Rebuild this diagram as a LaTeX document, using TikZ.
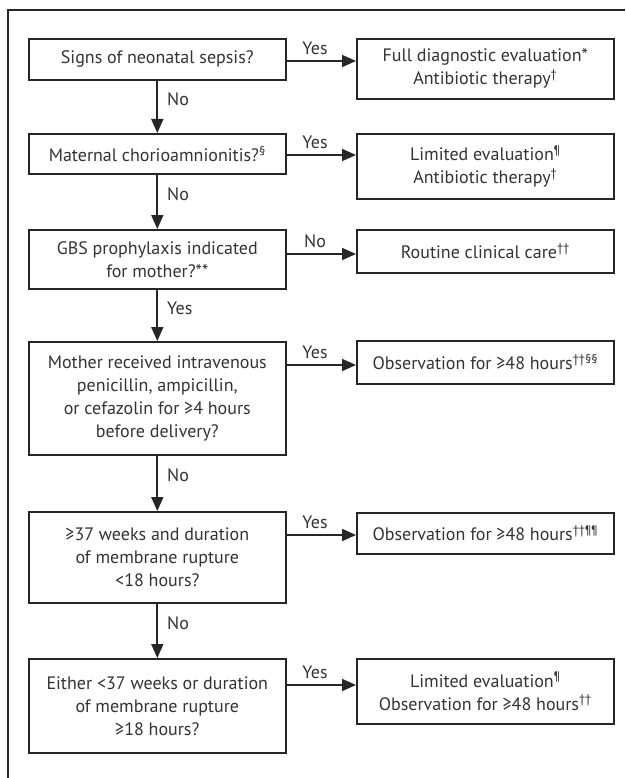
\documentclass[tikz,border=0pt]{standalone}
\usepackage{fontspec}
\setmainfont{PT Sans}
\usetikzlibrary{arrows.meta}
\definecolor{boxc}{HTML}{262626}
\definecolor{txt}{HTML}{333333}
\newcommand{\sups}[1]{\textsuperscript{#1}}
\newcommand{\fs}{\fontsize{18}{23}\selectfont}
\begin{document}
\begin{tikzpicture}[x=1pt,y=-1pt,
  box/.style={draw=boxc, line width=1.6pt, rectangle, align=center, anchor=north west,
    inner sep=0pt, font=\fs, text=txt, minimum width=257pt},
  arr/.style={line width=1.8pt, draw=boxc, -{Triangle[length=14pt,width=12pt]}},
  lab/.style={font=\fs, text=txt, inner sep=0pt},
  hlab/.style={lab, pos=0.41, above=5pt}]
\useasboundingbox (0,0) rectangle (625,778);
\fill[white] (0,0) rectangle (625,778);
\draw[boxc, line width=1.5pt] (625,10) -- (8,10) -- (8,778);
% left column
\node[box, minimum height=41pt] (L1) at (28,38) {Signs of neonatal sepsis?};
\node[box, minimum height=40pt] (L2) at (28,133) {Maternal chorioamnionitis?\sups{§}};
\node[box, minimum height=59pt] (L3) at (28,229) {GBS prophylaxis indicated\\for mother?**};
\node[box, minimum height=113pt] (L4) at (28,341) {Mother received intravenous\\penicillin, ampicillin,\\or cefazolin for ≥4 hours\\before delivery?};
\node[box, minimum height=91pt] (L5) at (28,511) {≥37 weeks and duration\\of membrane rupture\\<18 hours?};
\node[box, minimum height=94pt] (L6) at (28,658) {Either <37 weeks or duration\\of membrane rupture\\≥18 hours?};
% right column
\node[box, minimum height=60pt] (R1) at (356,38) {Full diagnostic evaluation*\\Antibiotic therapy\sups{†}};
\node[box, minimum height=65pt] (R2) at (356,133) {Limited evaluation\sups{¶}\\Antibiotic therapy\sups{†}};
\node[box, minimum height=43pt] (R3) at (356,229) {Routine clinical care\sups{††}};
\node[box, minimum height=43pt] (R4) at (356,340) {Observation for ≥48 hours\sups{††§§}};
\node[box, minimum height=41pt] (R5) at (356,512) {Observation for ≥48 hours\sups{††¶¶}};
\node[box, minimum height=65pt] (R6) at (356,658) {Limited evaluation\sups{¶}\\Observation for ≥48 hours\sups{††}};
% horizontal arrows
\draw[arr] (L1.east |- 0,61) -- node[hlab] {Yes} (R1.west |- 0,61);
\draw[arr] (L2.east |- 0,155) -- node[hlab] {Yes} (R2.west |- 0,155);
\draw[arr] (L3.east |- 0,254) -- node[hlab] {No} (R3.west |- 0,254);
\draw[arr] (L4.east |- 0,365) -- node[hlab] {Yes} (R4.west |- 0,365);
\draw[arr] (L5.east |- 0,535) -- node[hlab] {Yes} (R5.west |- 0,535);
\draw[arr] (L6.east |- 0,685) -- node[hlab] {Yes} (R6.west |- 0,685);
% vertical arrows
\draw[arr] (L1.south) -- node[lab, pos=0.36, anchor=west, xshift=9pt] {No} (L2.north);
\draw[arr] (L2.south) -- node[lab, pos=0.36, anchor=west, xshift=9pt] {No} (L3.north);
\draw[arr] (L3.south) -- node[lab, pos=0.36, anchor=west, xshift=9pt] {Yes} (L4.north);
\draw[arr] (L4.south) -- node[lab, pos=0.36, anchor=west, xshift=9pt] {No} (L5.north);
\draw[arr] (L5.south) -- node[lab, pos=0.36, anchor=west, xshift=9pt] {No} (L6.north);
\end{tikzpicture}
\end{document}
